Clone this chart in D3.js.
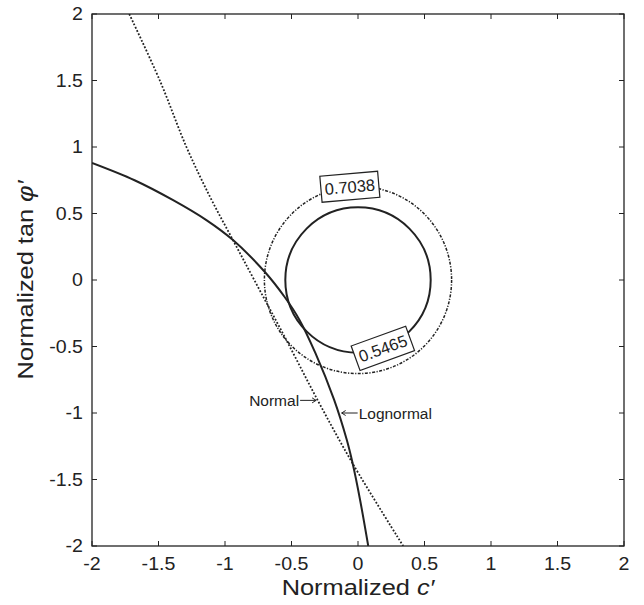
<!DOCTYPE html>
<html>
<head>
<meta charset="utf-8">
<script src="https://cdn.jsdelivr.net/npm/d3@7"></script>
<style>
  body { margin: 0; background: #fff; }
  text { font-family: "Liberation Sans", Arial, sans-serif; fill: #222; }
</style>
</head>
<body>
<svg id="chart"></svg>
<script>
// reliability contours, normalized c' vs normalized tan phi'
const ticks = [-2, -1.5, -1, -0.5, 0, 0.5, 1, 1.5, 2];

// limit-state curve, lognormal assumption
const lognormalC   = [-2, -1.68, -1.39, -1.14, -0.94, -0.70, -0.55, -0.44, -0.32, -0.18, -0.085, -0.04, 0.015, 0.077];
const lognormalPhi = [0.88, 0.75, 0.60, 0.45, 0.30, 0.06, -0.13, -0.30, -0.55, -0.90, -1.20, -1.38, -1.65, -2];

// limit-state curve, normal assumption
const normalC   = [-1.72, -1.49, -1.29, -1.11, -0.94, -0.78, -0.55, -0.30, -0.04, 0.34];
const normalPhi = [2, 1.5, 1.0, 0.62, 0.30, 0.0, -0.43, -0.91, -1.38, -2];

// dispersion circles in normalized space
const radii = [0.5465, 0.7038];
const radiusLabels = ["0.5465", "0.7038"];
const labelAngles = [-70, 95]; // degrees, where the inline label sits

// arrow annotations: label, tip (c, phi), side of text
const notes = [
    { label: "Normal", c: -0.315, phi: -0.905, side: "left" },
    { label: "Lognormal", c: -0.123, phi: -1.0, side: "right" }
];

const width = 644, height = 605;
const m = { left: 92, right: 624, top: 14, bottom: 546 };

const svg = d3.select("#chart")
    .attr("width", width)
    .attr("height", height);

const x = d3.scaleLinear().domain([-2, 2]).range([m.left, m.right]);
const y = d3.scaleLinear().domain([-2, 2]).range([m.bottom, m.top]);

svg.append("clipPath").attr("id", "clip")
  .append("rect")
    .attr("x", m.left).attr("y", m.top)
    .attr("width", m.right - m.left).attr("height", m.bottom - m.top);

const plot = svg.append("g").attr("clip-path", "url(#clip)");

const line = d3.line()
    .x(d => x(d[0]))
    .y(d => y(d[1]))
    .curve(d3.curveCatmullRom.alpha(0.5));

// circles
plot.append("circle")
    .attr("cx", x(0)).attr("cy", y(0))
    .attr("r", x(radii[1]) - x(0))
    .attr("fill", "none")
    .attr("stroke", "#222")
    .attr("stroke-width", 1.5)
    .attr("stroke-dasharray", "3,1.5,1.2,1.5");

plot.append("circle")
    .attr("cx", x(0)).attr("cy", y(0))
    .attr("r", x(radii[0]) - x(0))
    .attr("fill", "none")
    .attr("stroke", "#222")
    .attr("stroke-width", 2);

// curves
plot.append("path")
    .datum(normalC.map((c, i) => [c, normalPhi[i]]))
    .attr("d", line)
    .attr("fill", "none")
    .attr("stroke", "#222")
    .attr("stroke-width", 1.8)
    .attr("stroke-dasharray", "1.8,1.8");

plot.append("path")
    .datum(lognormalC.map((c, i) => [c, lognormalPhi[i]]))
    .attr("d", line)
    .attr("fill", "none")
    .attr("stroke", "#222")
    .attr("stroke-width", 2);

// inline contour labels
radii.forEach((r, i) => {
    const a = labelAngles[i] * Math.PI / 180;
    const px = x(r * Math.cos(a)), py = y(r * Math.sin(a));
    let rot = -(labelAngles[i] + 90);
    if (rot < -90) rot += 180;
    if (rot > 90) rot -= 180;
    const g = svg.append("g")
        .attr("transform", `translate(${px},${py}) rotate(${rot})`);
    g.append("rect")
        .attr("x", -29).attr("y", -13)
        .attr("width", 58).attr("height", 26)
        .attr("fill", "#fff")
        .attr("stroke", "#222")
        .attr("stroke-width", 1.2);
    g.append("text")
        .attr("text-anchor", "middle")
        .attr("dy", "0.36em")
        .attr("font-size", 16.5)
        .text(radiusLabels[i]);
});

// annotations with small arrows
const arrowLen = 16;
notes.forEach(n => {
    const tx = x(n.c), ty = y(n.phi);
    const dir = n.side === "left" ? -1 : 1;
    const tail = tx + dir * arrowLen;
    svg.append("path")
        .attr("d", `M${tail},${ty}L${tx},${ty}M${tx + dir * 4},${ty - 2.5}L${tx},${ty}L${tx + dir * 4},${ty + 2.5}`)
        .attr("fill", "none")
        .attr("stroke", "#222")
        .attr("stroke-width", 1);
    svg.append("text")
        .attr("x", tail + dir * 1)
        .attr("y", ty + 5.5)
        .attr("text-anchor", n.side === "left" ? "end" : "start")
        .attr("font-size", 15.5)
        .text(n.label);
});

// frame
svg.append("rect")
    .attr("x", m.left).attr("y", m.top)
    .attr("width", m.right - m.left).attr("height", m.bottom - m.top)
    .attr("fill", "none")
    .attr("stroke", "#222")
    .attr("stroke-width", 1.3);

const tickLen = 5;
const tg = svg.append("g").attr("stroke", "#222").attr("stroke-width", 1);
ticks.forEach(t => {
    tg.append("line").attr("x1", x(t)).attr("x2", x(t)).attr("y1", m.bottom).attr("y2", m.bottom - tickLen);
    tg.append("line").attr("x1", x(t)).attr("x2", x(t)).attr("y1", m.top).attr("y2", m.top + tickLen);
    tg.append("line").attr("y1", y(t)).attr("y2", y(t)).attr("x1", m.left).attr("x2", m.left + tickLen);
    tg.append("line").attr("y1", y(t)).attr("y2", y(t)).attr("x1", m.right).attr("x2", m.right - tickLen);
});

const tickStretch = 1.12;
svg.append("g").selectAll("text")
  .data(ticks)
  .join("text")
    .attr("transform", d => `translate(${x(d)},${m.bottom + 24}) scale(${tickStretch},1)`)
    .attr("text-anchor", "middle")
    .attr("font-size", 17.5)
    .text(d => d);

svg.append("g").selectAll("text")
  .data(ticks)
  .join("text")
    .attr("transform", d => `translate(${m.left - 9},${y(d)}) scale(${tickStretch},1)`)
    .attr("dy", "0.36em")
    .attr("text-anchor", "end")
    .attr("font-size", 17.5)
    .text(d => d);

// axis titles
const titleStretch = 1.18;
const xt = svg.append("text")
    .attr("transform", `translate(${(m.left + m.right) / 2},595) scale(${titleStretch},1)`)
    .attr("text-anchor", "middle")
    .attr("font-size", 21.5);
xt.append("tspan").text("Normalized ");
xt.append("tspan").attr("font-style", "italic").text("c\u2032");

const yt = svg.append("text")
    .attr("transform", `translate(33,${(m.top + m.bottom) / 2}) rotate(-90) scale(${titleStretch},1)`)
    .attr("text-anchor", "middle")
    .attr("font-size", 21.5);
yt.append("tspan").text("Normalized tan ");
yt.append("tspan").attr("font-style", "italic").text("\u03c6\u2032");
</script>
</body>
</html>
